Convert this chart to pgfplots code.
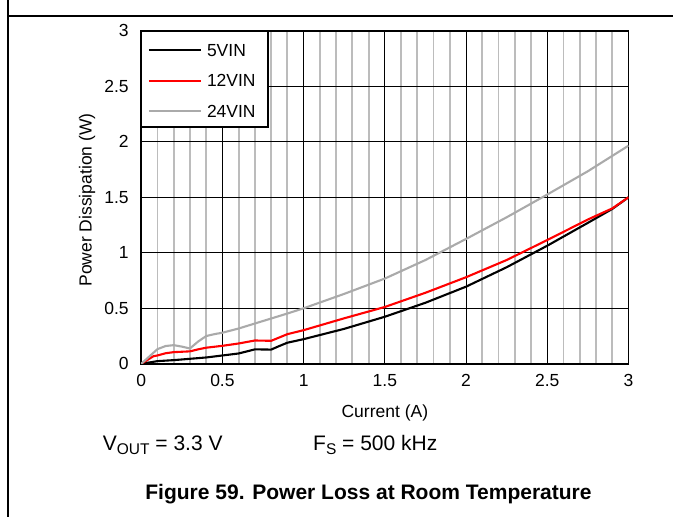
\documentclass[border=0pt]{standalone}
\usepackage{fontspec}
\setmainfont{Liberation Sans}
\usepackage{pgfplots}
\pgfplotsset{compat=1.18}
\definecolor{gridgray}{RGB}{188,188,188}
\definecolor{c24}{RGB}{170,170,170}
\begin{document}
\begin{tikzpicture}[x=1pt,y=1pt]
\path[use as bounding box] (0,0) rectangle (673,517);
\draw[line width=1.2pt] (8,0) -- (8,517);
\draw[line width=1.2pt] (8,501) -- (673,501);
\begin{axis}[
  at={(141.2pt,153.2pt)}, anchor=south west,
  scale only axis, width=487.3pt, height=333pt,
  xmin=0, xmax=3, ymin=0, ymax=3,
  xtick={0,0.5,1,1.5,2,2.5,3}, xticklabels={0,0.5,1,1.5,2,2.5,3},
  ytick={0,0.5,1,1.5,2,2.5,3}, yticklabels={0,0.5,1,1.5,2,2.5,3},
  minor x tick num=4,
  xmajorgrids, ymajorgrids, xminorgrids,
  major grid style={black, line width=0.9pt},
  minor grid style={gridgray, line width=1.8pt},
  axis line style={line width=1.8pt},
  tick style={draw=none},
  ticklabel style={font=\fontsize{17.5}{20}\selectfont},
  xticklabel style={yshift=-7pt},
  yticklabel style={xshift=-9pt},
  xlabel={Current (A)}, ylabel={Power Dissipation (W)},
  label style={font=\fontsize{17.5}{20}\selectfont},
  xlabel style={at={(axis description cs:0.5,-0.148)}, anchor=center},
  ylabel style={at={(axis description cs:-0.111,0.492)}, anchor=center},
  legend cell align=left,
  legend image code/.code={\draw[#1] (0pt,0pt) -- (52pt,0pt);},
  legend style={at={(axis description cs:0,1)}, anchor=north west, yshift=-1.5pt,
    draw=none, fill=none, inner xsep=6.5pt, inner ysep=8pt, row sep=12pt, column sep=2pt,
    font=\fontsize{17.5}{20}\selectfont,
    nodes={text height=12.7pt, text depth=0pt, inner sep=3pt}},
]
\draw[line width=1.8pt, fill=white] (axis description cs:0,1) rectangle (axis description cs:0.2602,0.711);
\addplot[black, line width=2.1pt] coordinates {
(0,0) (0.1,0.024) (0.2,0.033) (0.3,0.045) (0.4,0.057) (0.5,0.075) (0.6,0.093)
(0.7,0.13) (0.8,0.128) (0.85,0.16) (0.9,0.19) (1.0,0.222) (1.25,0.315)
(1.5,0.424) (1.75,0.55) (2.0,0.695) (2.25,0.87) (2.5,1.064) (2.75,1.27)
(2.9,1.395) (3.0,1.5)};
\addlegendentry{5VIN}
\addplot[red, line width=2.1pt] coordinates {
(0,0) (0.075,0.068) (0.1,0.075) (0.15,0.095) (0.2,0.105) (0.3,0.112) (0.35,0.13)
(0.4,0.145) (0.5,0.162) (0.6,0.183) (0.7,0.21) (0.8,0.207) (0.85,0.237)
(0.9,0.267) (1.0,0.303) (1.25,0.41) (1.5,0.512) (1.75,0.64) (2.0,0.78)
(2.25,0.935) (2.5,1.115) (2.75,1.30) (2.9,1.40) (3.0,1.5)};
\addlegendentry{12VIN}
\addplot[c24, line width=2.1pt] coordinates {
(0,0) (0.1,0.132) (0.15,0.16) (0.2,0.168) (0.25,0.155) (0.3,0.138) (0.35,0.2)
(0.4,0.25) (0.45,0.267) (0.5,0.28) (0.6,0.318) (0.7,0.363) (0.8,0.408)
(0.9,0.453) (1.0,0.5) (1.25,0.63) (1.5,0.768) (1.75,0.935) (2.0,1.125)
(2.25,1.32) (2.5,1.525) (2.75,1.735) (3.0,1.965)};
\addlegendentry{24VIN}
\end{axis}
\node[anchor=base west, inner sep=0, font=\fontsize{21}{24}\selectfont] at (102.7,66.3)
  {V\raisebox{-3.5pt}{\fontsize{15.5}{16}\selectfont OUT} = 3.3 V};
\node[anchor=base west, inner sep=0, font=\fontsize{21}{24}\selectfont] at (313,66.3)
  {F\raisebox{-3.5pt}{\fontsize{15.5}{16}\selectfont S} = 500 kHz};
\node[anchor=base, inner sep=0, font=\bfseries\fontsize{21}{24}\selectfont] at (368.5,17)
  {Figure 59. Power Loss at Room Temperature};
\end{tikzpicture}
\end{document}
